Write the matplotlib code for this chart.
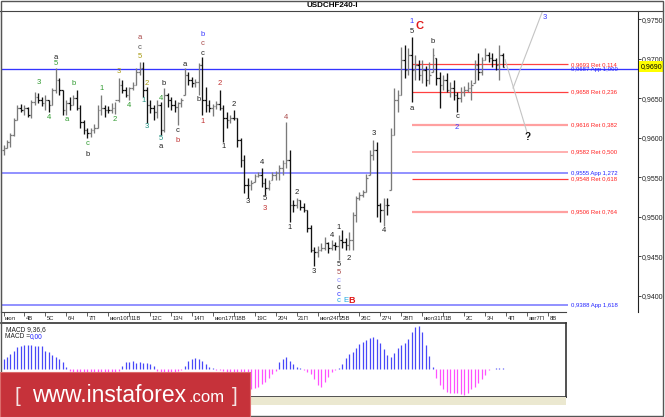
import matplotlib
matplotlib.use("Agg")
import matplotlib.pyplot as plt
from matplotlib.lines import Line2D
from matplotlib.patches import Rectangle
from matplotlib.ticker import FuncFormatter

plt.rcParams["font.family"] = ["Liberation Sans", "DejaVu Sans"]

# 4H bars USDCHF
highs = [
    0.9591, 0.9597, 0.9606, 0.9625, 0.9642, 0.9643, 0.9642, 0.9639, 0.9648, 0.9658,
    0.9657, 0.9652, 0.9654, 0.9648, 0.9663, 0.9688, 0.9676, 0.9661, 0.9648, 0.9652,
    0.9654, 0.9661, 0.9642, 0.9623, 0.9613, 0.9613, 0.9618, 0.9642, 0.9654, 0.9642,
    0.9640, 0.9644, 0.9645, 0.9676, 0.9673, 0.9664, 0.9664, 0.9671, 0.9688, 0.9696,
    0.9696, 0.9664, 0.9648, 0.9642, 0.9648, 0.9645, 0.9663, 0.9657, 0.9652, 0.9648,
    0.9645, 0.9650, 0.9688, 0.9683, 0.9677, 0.9674, 0.9695, 0.9702, 0.9664, 0.9648,
    0.9643, 0.9647, 0.9661, 0.9642, 0.9633, 0.9629, 0.9635, 0.9625, 0.9600, 0.9578,
    0.9549, 0.9547, 0.9554, 0.9557, 0.9562, 0.9549, 0.9547, 0.9557, 0.9558, 0.9566,
    0.9572, 0.9620, 0.9585, 0.9521, 0.9524, 0.9521, 0.9518, 0.9509, 0.9490, 0.9462,
    0.9463, 0.9467, 0.9475, 0.9468, 0.9471, 0.9468, 0.9477, 0.9483, 0.9473, 0.9481,
    0.9506, 0.9526, 0.9532, 0.9534, 0.9554, 0.9585, 0.9597, 0.9595, 0.9518, 0.9524,
    0.9524, 0.9613, 0.9663, 0.9661, 0.9715, 0.9718, 0.9714, 0.9728, 0.9705, 0.9699,
    0.9699, 0.9691, 0.9696, 0.9714, 0.9701, 0.9683, 0.9680, 0.9682, 0.9671, 0.9673,
    0.9658, 0.9664, 0.9666, 0.9671, 0.9673, 0.9699, 0.9707, 0.9702, 0.9714, 0.9709,
    0.9707, 0.9701, 0.9718, 0.9707,
]
lows = [
    0.9578, 0.9587, 0.9588, 0.9602, 0.9623, 0.9633, 0.9629, 0.9626, 0.9625, 0.9642,
    0.9644, 0.9640, 0.9635, 0.9633, 0.9642, 0.9657, 0.9654, 0.9629, 0.9629, 0.9635,
    0.9642, 0.9635, 0.9613, 0.9605, 0.9600, 0.9601, 0.9606, 0.9613, 0.9629, 0.9626,
    0.9631, 0.9631, 0.9630, 0.9645, 0.9657, 0.9652, 0.9648, 0.9661, 0.9667, 0.9680,
    0.9652, 0.9619, 0.9631, 0.9623, 0.9625, 0.9604, 0.9607, 0.9639, 0.9635, 0.9633,
    0.9616, 0.9639, 0.9654, 0.9667, 0.9664, 0.9664, 0.9654, 0.9629, 0.9633, 0.9633,
    0.9628, 0.9637, 0.9635, 0.9595, 0.9613, 0.9619, 0.9623, 0.9588, 0.9563, 0.9530,
    0.9524, 0.9534, 0.9544, 0.9551, 0.9538, 0.9528, 0.9534, 0.9547, 0.9547, 0.9547,
    0.9553, 0.9562, 0.9494, 0.9506, 0.9511, 0.9509, 0.9506, 0.9481, 0.9456, 0.9438,
    0.9449, 0.9457, 0.9458, 0.9454, 0.9458, 0.9458, 0.9445, 0.9461, 0.9458, 0.9458,
    0.9458, 0.9494, 0.9521, 0.9525, 0.9532, 0.9553, 0.9572, 0.9500, 0.9494, 0.9489,
    0.9502, 0.9534, 0.9604, 0.9633, 0.9654, 0.9676, 0.9680, 0.9645, 0.9673, 0.9673,
    0.9669, 0.9666, 0.9668, 0.9683, 0.9667, 0.9638, 0.9661, 0.9658, 0.9652, 0.9648,
    0.9633, 0.9645, 0.9653, 0.9658, 0.9648, 0.9669, 0.9673, 0.9680, 0.9699, 0.9696,
    0.9690, 0.9686, 0.9673, 0.9690,
]
closes = [
    0.9587, 0.9595, 0.9604, 0.9623, 0.9638, 0.9635, 0.9638, 0.9629, 0.9645, 0.9652,
    0.9648, 0.9644, 0.9648, 0.9642, 0.9661, 0.9673, 0.9661, 0.9635, 0.9644, 0.9642,
    0.9650, 0.9638, 0.9620, 0.9610, 0.9606, 0.9610, 0.9613, 0.9635, 0.9638, 0.9635,
    0.9635, 0.9638, 0.9648, 0.9667, 0.9661, 0.9654, 0.9663, 0.9667, 0.9683, 0.9688,
    0.9661, 0.9642, 0.9638, 0.9633, 0.9642, 0.9610, 0.9654, 0.9648, 0.9642, 0.9639,
    0.9644, 0.9648, 0.9680, 0.9673, 0.9669, 0.9671, 0.9692, 0.9648, 0.9642, 0.9638,
    0.9640, 0.9643, 0.9638, 0.9625, 0.9623, 0.9625, 0.9625, 0.9597, 0.9572, 0.9540,
    0.9540, 0.9543, 0.9552, 0.9553, 0.9543, 0.9537, 0.9543, 0.9553, 0.9556, 0.9562,
    0.9568, 0.9572, 0.9515, 0.9515, 0.9521, 0.9512, 0.9509, 0.9486, 0.9458, 0.9456,
    0.9458, 0.9461, 0.9467, 0.9461, 0.9464, 0.9463, 0.9471, 0.9468, 0.9464, 0.9471,
    0.9502, 0.9524, 0.9528, 0.9532, 0.9549, 0.9578, 0.9585, 0.9515, 0.9509, 0.9515,
    0.9515, 0.9604, 0.9648, 0.9654, 0.9699, 0.9686, 0.9705, 0.9686, 0.9692, 0.9680,
    0.9686, 0.9673, 0.9680, 0.9705, 0.9676, 0.9667, 0.9673, 0.9661, 0.9663, 0.9654,
    0.9650, 0.9658, 0.9661, 0.9663, 0.9667, 0.9692, 0.9683, 0.9699, 0.9705, 0.9701,
    0.9699, 0.9692, 0.9705, 0.9690,
]
first_open = 0.9585

# MACD(9,36,6) histogram, units of 1e-4
macd = [
    5.0, 5.8, 7.5, 9.2, 11.2, 11.7, 12.0, 12.0, 12.0, 11.7, 11.7, 11.5, 9.2, 8.3, 7.0, 5.8, 5.0, 3.3, 0.8,
    -1.0, -2.0, -3.0, -3.5, -4.0, -4.5, -5.0, -5.0, -4.5, -4.0, -3.5, -3.0, -2.0, -1.5, -0.8,
    1.7, 3.3, 3.3, 3.8, 2.8, 3.3, 2.8, 3.0, 2.5, 1.5,
    -1.0, -2.0, -2.5, -3.0, -2.5, -2.0, -1.0, -0.5,
    1.7, 3.8, 5.0, 5.5, 5.0, 3.8, 2.5, 1.2, 0.5,
    -0.3, -0.5, -1.0, -1.5, -1.5, -2.0, -3.0, -4.5, -6.5, -8.5, -10.0, -9.5, -9.0, -7.5, -6.5, -4.5, -2.5, -1.0,
    3.3, 5.0, 5.8, 4.2, 2.5, 1.2, 0.3,
    -0.5, -1.5, -2.5, -5.0, -8.0, -9.0, -6.5, -4.0, -1.5, -0.5, 0.5,
    2.5, 5.3, 7.3, 8.7, 10.3, 12.3, 13.3, 14.5, 15.3, 16.2, 14.8, 12.8, 9.8, 7.0, 6.2, 8.2, 10.3,
    12.0, 12.8, 14.8, 18.7, 21.2, 21.7, 18.7, 12.0, 6.5, 1.2,
    -4.7, -8.0, -10.2, -11.3, -11.8, -12.2, -12.2, -12.5, -13.0, -12.2, -10.2, -8.8, -7.2, -5.2, -3.0, -0.5,
    0.2, 0.5, 0.5, 0.3,
]

day_labels = ["июл", "4В", "5С", "6Ч", "7П", "июл10П", "11В", "12С", "13Ч", "14П",
              "июл17П", "18В", "19С", "20Ч", "21П", "июл24П", "25В", "26С", "27Ч", "28П",
              "июл31П", "1В", "2С", "3Ч", "4П", "авг7П", "8В"]
price_ticks = [0.9400, 0.9450, 0.9500, 0.9550, 0.9600, 0.9650, 0.9700, 0.9750]

# Fibonacci levels from the C top
fib_prices = [0.9693, 0.9687, 0.9658, 0.9616, 0.9582, 0.9555, 0.9548, 0.9506, 0.9388]
fib_tags = ["Ret 0,114", "App 1,000", "Ret 0,236", "Ret 0,382", "Ret 0,500",
            "App 1,272", "Ret 0,618", "Ret 0,764", "App 1,618"]

# forecast paths (bar, price)
fc_down_x = [143.7, 150.0]
fc_down_y = [0.9699, 0.9607]
fc_up_x = [146.0, 154.6]
fc_up_y = [0.9663, 0.9762]

# wave labels: bar, anchor (h/l), dy px, dx px, text, colour
G, TL, OL, BR, RD, K, DK, BL, LV, CY, RR = ("#2f9a2f", "#1f8f7f", "#a89a10", "#a84848", "#c03030",
                                            "#202020", "#505050", "#3a3aff", "#8c8cff", "#20a8e0", "#e01818")
waves = [
    (15, "h", 5, 0, "5", G), (15, "h", 11, 0, "a", K), (10, "h", 10, 0, "3", G),
    (20, "h", 12, 0, "b", G), (13, "l", -6, 0, "4", G), (18, "l", -5, 0, "a", G),
    (24, "l", -6, 0, "c", G), (24, "l", -17, 0, "b", K), (28, "h", 7, 0, "1", G),
    (32, "l", -5, 0, "2", G), (33, "h", 6, 0, "3", OL), (36, "l", -6, 0, "4", G),
    (39, "h", 5, 0, "5", OL), (39, "h", 14, 0, "c", DK), (39, "h", 24, 0, "a", BR),
    (41, "h", 4, 0, "2", OL), (40, "l", -4, 0, "1", TL), (41, "l", -4, 0, "3", TL),
    (45, "h", 4, 0, "4", G), (45, "l", -4, 0, "5", TL), (45, "l", -12, 0, "a", K),
    (46, "h", 5, 0, "b", K), (50, "l", -5, 0, "c", K), (50, "l", -15, 0, "b", RD),
    (52, "h", 4, 0, "a", K), (56, "l", -4, 0, "b", K), (57, "h", 4, 0, "c", K),
    (57, "h", 14, 0, "c", BR), (57, "h", 23, 0, "b", BL), (57, "l", -7, 0, "1", RD),
    (62, "h", 6, 0, "2", RD), (63, "l", -5, 0, "1", K), (66, "h", 6, 0, "2", K),
    (70, "l", -4, 0, "3", K), (74, "h", 5, 0, "4", K), (75, "l", -4, 0, "5", K),
    (75, "l", -14, 0, "3", RD), (81, "h", 5, 0, "4", BR), (82, "l", -6, 0, "1", K),
    (84, "h", 5, 0, "2", K), (89, "l", -6, 0, "3", K), (94, "h", 4, 0, "4", K),
    (96, "h", 8, 0, "1", K), (96, "l", -4, 0, "5", K), (96, "l", -12, 0, "5", BR),
    (96, "l", -20, 0, "c", LV), (96, "l", -27, 0, "c", K), (96, "l", -34, 0, "c", BL),
    (96, "l", -40, 0, "c", CY), (96, "l", -40, 7, "E", CY), (99, "l", -8, 0, "2", K),
    (106, "h", 7, 0, "3", K), (109, "l", -5, 0, "4", K), (117, "h", 5, 0, "5", K),
    (117, "h", 15, 0, "1", BL), (117, "l", -6, 0, "a", K), (123, "h", 6, 0, "b", K),
    (130, "l", -5, 0, "c", K), (130, "l", -16, 0, "2", BL),
]
big_waves = [(96, "l", -40, 13, "B", RR, 6.5), (117, "h", 11, 8, "C", RR, 8)]

W, H = 665, 417
BAR0_PX = 3.5
BAR_PX = 3.49


def fx(px):
    return px / W


def fy(py):
    return 1 - py / H


def to_bar(px):
    return (px - BAR0_PX) / BAR_PX


def fmt(v):
    return f"{v:.4f}".replace(".", ",")


def main():
    fig = plt.figure(figsize=(W / 100, H / 100), dpi=100)

    # main price panel
    ax = fig.add_axes([fx(1), fy(312), fx(638) - fx(1), (312 - 11) / H])
    ax.set_xlim(to_bar(1), to_bar(638))
    ax.set_ylim(0.93797, 0.97605)

    opens = [first_open] + closes[:-1]
    for i in range(len(closes)):
        o = min(max(opens[i], lows[i]), highs[i])
        c = closes[i]
        col = "#7a7a7a" if c > o else "#111111"
        ax.vlines(i, lows[i], highs[i], color=col, lw=0.95, zorder=2)
        ax.hlines(o, i - 0.45, i, color=col, lw=0.9, zorder=2)
        ax.hlines(c, i, i + 0.45, color=col, lw=0.9, zorder=2)

    # fib lines and their labels
    top = highs.index(max(highs))
    fib_styles = [("fib", "#ff4040", 0.9), ("full", "#3434ff", 0.95), ("fib", "#ff4040", 0.9),
                  ("fib", "#ffa0a0", 1.6), ("fib", "#ff9a9a", 1.1), ("left", "#9090ff", 1.4),
                  ("fib", "#ff3a3a", 0.9), ("fib", "#ffa0a0", 1.6), ("left", "#9090ff", 1.4)]
    left, right = ax.get_xlim()
    for price, tag, (span, col, lw) in zip(fib_prices, fib_tags, fib_styles):
        x0 = top if span == "fib" else left
        x1 = right if span == "full" else to_bar(568)
        ax.hlines(price, x0, x1, color=col, lw=lw, zorder=1)
        tcol = "#2424ff" if tag.startswith("App") else "#ff2020"
        ax.text(to_bar(571), price, f"{fmt(price)} {tag}", fontsize=4.3, color=tcol,
                ha="left", va="center", zorder=3)

    # wave counts
    for i, side, dy, dx, txt, col in waves:
        y = highs[i] if side == "h" else lows[i]
        ax.annotate(txt, (i, y), xytext=(dx * 0.72, dy * 0.72), textcoords="offset points",
                    ha="center", va="center", fontsize=5.5, color=col)
    for i, side, dy, dx, txt, col, size in big_waves:
        y = highs[i] if side == "h" else lows[i]
        ax.annotate(txt, (i, y), xytext=(dx * 0.72, dy * 0.72), textcoords="offset points",
                    ha="center", va="center", fontsize=size, color=col, fontweight="bold")

    # forecast
    ax.plot(fc_down_x, fc_down_y, color="#c4c4c4", lw=0.8)
    ax.plot(fc_up_x, fc_up_y, color="#c4c4c4", lw=0.8)
    ax.annotate("?", (fc_down_x[-1], fc_down_y[-1]), xytext=(0.7, -3.2), textcoords="offset points",
                ha="center", va="center", fontsize=7, fontweight="bold", color="#111")
    ax.annotate("3", (fc_up_x[-1], fc_up_y[-1]), xytext=(1.5, -5.5), textcoords="offset points",
                ha="center", va="center", fontsize=5.5, color=BL, annotation_clip=False)

    # price scale
    ax.yaxis.tick_right()
    ax.set_yticks(price_ticks)
    ax.yaxis.set_major_formatter(FuncFormatter(lambda v, _: fmt(v)))
    ax.tick_params(axis="y", length=2, width=0.6, pad=1, labelsize=5, colors="#222222")
    ax.set_xticks([])
    ax.spines["top"].set_visible(False)
    ax.spines["bottom"].set_visible(False)
    ax.spines["left"].set_color("#555555")
    ax.spines["right"].set_color("#222222")
    ax.spines["right"].set_linewidth(0.8)
    ax.annotate(fmt(closes[-1]), (1.0, closes[-1]), xycoords=ax.get_yaxis_transform(),
                xytext=(2.2, 0), textcoords="offset points", ha="left", va="center", fontsize=5,
                bbox=dict(boxstyle="square,pad=0.25", fc="#ffff00", ec="none"), annotation_clip=False)

    # title strip
    fig.add_artist(Line2D([0, fx(663)], [fy(11), fy(11)], color="#444444", lw=0.8))
    fig.text(fx(332), fy(5.5), "USDCHF240-I", ha="center", va="center", fontsize=5.8, fontweight="bold")

    # date row
    axd = fig.add_axes([fx(1), fy(323), fx(566) - fx(1), 11 / H])
    axd.set_xlim(to_bar(1), to_bar(566))
    axd.set_ylim(0, 1)
    ticks = [6 * k for k in range(len(day_labels))]
    axd.set_xticks(ticks)
    axd.set_yticks([])
    axd.tick_params(axis="x", top=True, bottom=False, direction="in", length=3, width=0.6,
                    color="#444444", labelbottom=False)
    for s in ["left", "right", "bottom"]:
        axd.spines[s].set_visible(False)
    axd.spines["top"].set_color("#444444")
    axd.spines["top"].set_linewidth(0.8)
    for t, lab in zip(ticks, day_labels):
        axd.text(t + 0.45, 0.4, lab, fontsize=4.2, ha="left", va="center", color="#222222")

    # MACD panel
    axm = fig.add_axes([fx(1), fy(397), fx(566) - fx(1), 74 / H])
    axm.set_xlim(to_bar(1), to_bar(566))
    axm.set_ylim(-14, 23)
    cols = ["#4848f8" if v >= 0 else "#ff50ff" for v in macd]
    axm.vlines(range(len(macd)), 0, macd, colors=cols, lw=0.9)
    axm.set_xticks([])
    axm.set_yticks([])
    axm.spines["left"].set_visible(False)
    for s in ["top", "right", "bottom"]:
        axm.spines[s].set_color("#333333")
        axm.spines[s].set_linewidth(1.2)
    axm.text(5 / 565, (397 - 329.5) / 74, "MACD 9,36,6", transform=axm.transAxes,
             fontsize=4.8, ha="left", va="center", color="#222222")
    axm.text(4 / 565, (397 - 336.5) / 74, "MACD =", transform=axm.transAxes,
             fontsize=4.8, ha="left", va="center", color="#222222")
    axm.text(29 / 565, (397 - 336.5) / 74, "0,00", transform=axm.transAxes,
             fontsize=4.8, ha="left", va="center", color="#2020ff")

    fig.add_artist(Rectangle((fx(1), fy(405)), fx(566) - fx(1), 8 / H, transform=fig.transFigure,
                             fc="#ebe8d0", ec="none"))

    # outer frame
    fig.add_artist(Rectangle((fx(0.5), fy(415.5)), fx(663) - fx(0.5), 415 / H, transform=fig.transFigure,
                             fill=False, ec="#555555", lw=1.0, zorder=5))

    # watermark
    fig.add_artist(Rectangle((0, 0), fx(250), 45 / H, transform=fig.transFigure,
                             fc="#c6323a", ec="#dc6c6c", lw=0.8, zorder=10))
    fig.text(fx(14), fy(402), "[", color="#f4e4e4", fontsize=15, va="baseline", zorder=11)
    fig.text(fx(32), fy(402), "www.instaforex", color="white", fontsize=16.5, va="baseline", zorder=11)
    fig.text(fx(188), fy(402), ".com", color="white", fontsize=12, va="baseline", zorder=11)
    fig.text(fx(232), fy(402), "]", color="#f4e4e4", fontsize=15, va="baseline", zorder=11)

    fig.savefig("out.png", dpi=100)


if __name__ == "__main__":
    main()
